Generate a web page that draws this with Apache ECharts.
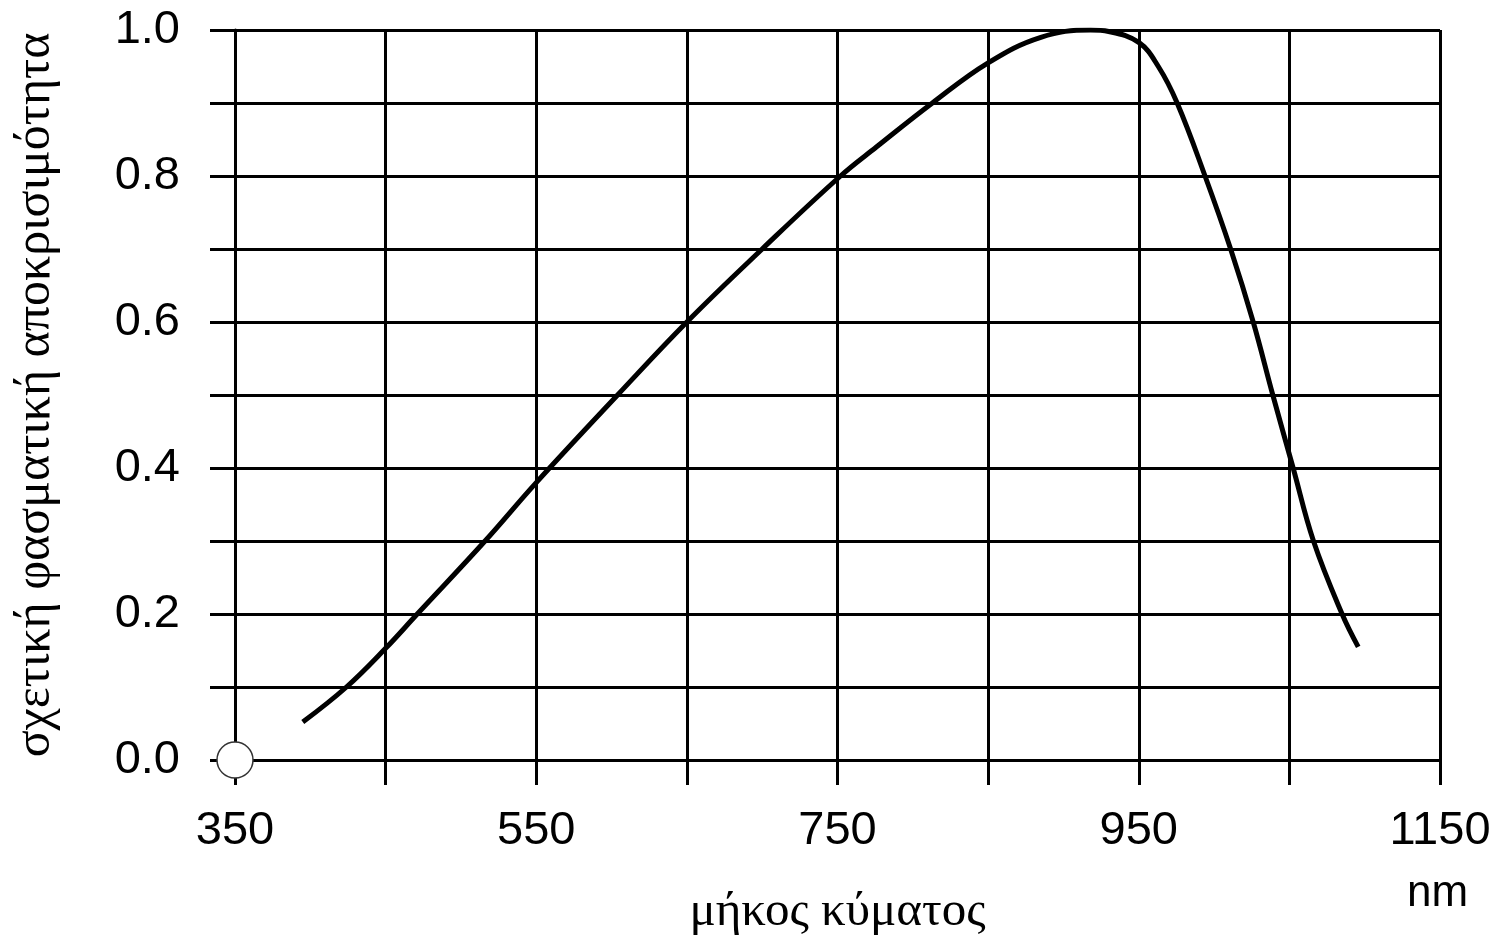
<!DOCTYPE html>
<html>
<head>
<meta charset="utf-8">
<script src="https://cdn.jsdelivr.net/npm/echarts@6/dist/echarts.min.js"></script>
<style>html,body{margin:0;padding:0;background:#fff;}#c{width:1507px;height:940px;}</style>
</head>
<body>
<div id="c"></div>
<script>
// wavelength (nm)
const wavelengths = [395, 424, 450, 471, 516, 550, 604, 650, 700, 752, 776, 813, 850, 885, 918, 930, 950, 963, 975.5, 994, 1011, 1026, 1039, 1052.5, 1066, 1085, 1095.7];
// relative spectral response
const response = [0.052, 0.10, 0.153, 0.20, 0.30, 0.38, 0.50, 0.60, 0.70, 0.80, 0.84, 0.90, 0.955, 0.99, 1.0, 0.998, 0.983, 0.95, 0.90, 0.80, 0.70, 0.60, 0.50, 0.40, 0.30, 0.20, 0.155];
const originMarker = [[350, 0]];
const xTickLabels = [350, 550, 750, 950, 1150];
const yTickLabels = [0.0, 0.2, 0.4, 0.6, 0.8, 1.0];
const yTitle = 'σχετική φασματική αποκρισιμότητα';
const xTitle = 'μήκος κύματος';
const xUnit = 'nm';

const chart = echarts.init(document.getElementById('c'), null, {renderer: 'canvas'});
const lineW = 3;
chart.setOption({
  animation: false,
  backgroundColor: '#fff',
  grid: {left: 235, right: 67, top: 30, bottom: 180, containLabel: false, outerBoundsMode: 'none'},
  xAxis: {
    type: 'value', min: 350, max: 1150, interval: 100,
    axisLine: {show: true, lineStyle: {color: '#000', width: lineW}},
    axisTick: {show: true, length: 25, lineStyle: {color: '#000', width: lineW}},
    splitLine: {show: true, lineStyle: {color: '#000', width: lineW}},
    axisLabel: {
      margin: 48, color: '#000', fontSize: 47, fontFamily: 'Liberation Sans',
      formatter: v => xTickLabels.includes(Math.round(v)) ? String(Math.round(v)) : ''
    },
    name: xTitle, nameLocation: 'middle', nameGap: 128,
    nameTextStyle: {color: '#000', fontSize: 49, fontFamily: 'Liberation Serif'}
  },
  yAxis: {
    type: 'value', min: 0, max: 1, interval: 0.1,
    axisLine: {show: true, lineStyle: {color: '#000', width: lineW}},
    axisTick: {show: true, length: 25, lineStyle: {color: '#000', width: lineW}},
    splitLine: {show: true, lineStyle: {color: '#000', width: lineW}},
    axisLabel: {
      margin: 55, color: '#000', fontSize: 47, fontFamily: 'Liberation Sans',
      formatter: v => {
        const r = Math.round(v * 10) / 10;
        return yTickLabels.some(t => Math.abs(t - r) < 1e-9) ? r.toFixed(1) : '';
      }
    },
    name: yTitle, nameLocation: 'middle', nameGap: 174, nameRotate: 90,
    nameTextStyle: {color: '#000', fontSize: 50, fontFamily: 'Liberation Serif'}
  },
  graphic: [{
    type: 'text', left: 1407, top: 872,
    style: {text: xUnit, fill: '#000', fontSize: 44, fontFamily: 'Liberation Sans'}
  }],
  series: [{
    type: 'line',
    data: wavelengths.map((w, i) => [w, response[i]]),
    smooth: 0.4, showSymbol: false, symbol: 'none',
    lineStyle: {color: '#000', width: 5}, z: 5
  }, {
    type: 'scatter', data: originMarker, symbol: 'circle', symbolSize: 36,
    itemStyle: {color: '#fff', opacity: 1, borderColor: '#333', borderWidth: 1.5}, z: 6, clip: false
  }]
});
</script>
</body>
</html>
